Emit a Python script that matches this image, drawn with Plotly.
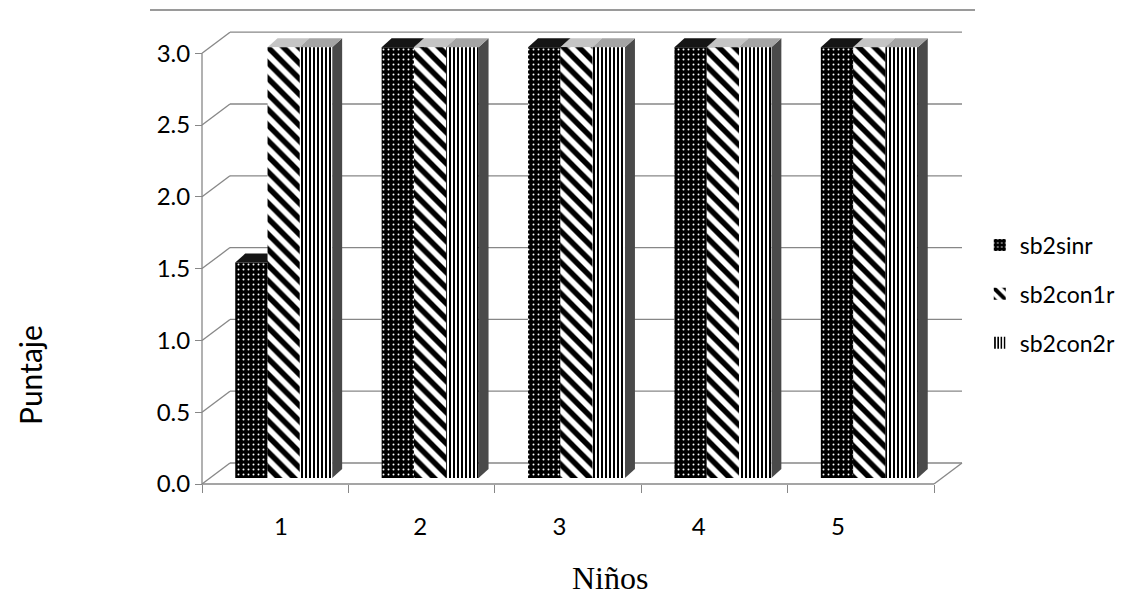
import plotly.graph_objects as go

# ---- data ----
ninos = [1, 2, 3, 4, 5]
sb2sinr = [1.5, 3.0, 3.0, 3.0, 3.0]
sb2con1r = [3.0, 3.0, 3.0, 3.0, 3.0]
sb2con2r = [3.0, 3.0, 3.0, 3.0, 3.0]
series_names = ["sb2sinr", "sb2con1r", "sb2con2r"]
y_ticks = [0.0, 0.5, 1.0, 1.5, 2.0, 2.5, 3.0]

# ---- geometry of the pseudo-3D frame (pixels per unit) ----
W, H = 1134, 595
SX, SY = 146.4, 143.6          # px per category / px per score unit
X0, Y0 = 202, 484              # pixel position of category 0.5 / score 0
WALL_DX, WALL_DY = 28 / SX, 21 / SY
BAR_W = 32.3 / SX
BAR_SHIFT = 8.5 / SX
BAR_BASE = 6 / SY
FACE_DX, FACE_DY = 10 / SX, 9 / SY
# category labels sit on the projected floor, slightly compressed
LABEL_START, LABEL_SPREAD = 0.04, 0.951
GRID = "#878787"
FONT = "Lato"


def cat_at(px):
    return (px - X0) / SX + 0.5


def val_at(py):
    return (Y0 - py) / SY


styles = [
    dict(shape=".", bgcolor="#000000", fgcolor="#ffffff", size=5,
         solidity=0.12, fgopacity=1),
    dict(shape="\\", bgcolor="#ffffff", fgcolor="#000000", size=11,
         solidity=0.5, fgopacity=1),
    dict(shape="|", bgcolor="#ffffff", fgcolor="#000000", size=4,
         solidity=0.5, fgopacity=1),
]
top_colors = ["#151515", "#c4c4c4", "#a4a4a4"]
side_colors = ["#151515", "#8a8a8a", "#4a4a4a"]

fig = go.Figure()
series = [sb2sinr, sb2con1r, sb2con2r]
for i, (name, vals) in enumerate(zip(series_names, series)):
    fig.add_trace(go.Bar(
        x=ninos, y=vals, name=name, base=BAR_BASE, width=BAR_W,
        offset=-1.5 * BAR_W + i * BAR_W + BAR_SHIFT,
        marker=dict(color=styles[i]["bgcolor"], line=dict(width=0),
                    pattern=styles[i]),
        legendgroup=name,
    ))

shapes = []
line = dict(color=GRID, width=1.3)
# back wall gridlines and the diagonals joining them to the front axis
for v in y_ticks:
    shapes.append(dict(type="line", xref="x", yref="y", layer="below",
                       x0=0.5 + WALL_DX, x1=5.5 + WALL_DX,
                       y0=v + WALL_DY, y1=v + WALL_DY, line=line))
    shapes.append(dict(type="line", xref="x", yref="y", layer="below",
                       x0=0.5, x1=0.5 + WALL_DX, y0=v, y1=v + WALL_DY, line=line))
# floor edges and the front axes
shapes.append(dict(type="line", xref="x", yref="y", layer="below",
                   x0=5.5, x1=5.5 + WALL_DX, y0=0, y1=WALL_DY, line=line))
shapes.append(dict(type="line", xref="x", yref="y", layer="below",
                   x0=0.5, x1=5.5, y0=0, y1=0, line=line))
shapes.append(dict(type="line", xref="x", yref="y", layer="below",
                   x0=0.5, x1=0.5, y0=0, y1=3.0, line=line))

# top and side faces of every bar
for k, pos in enumerate(ninos):
    for i, vals in enumerate(series):
        xl = pos - 1.5 * BAR_W + i * BAR_W + BAR_SHIFT
        xr = xl + BAR_W
        yb = BAR_BASE
        yt = BAR_BASE + vals[k]
        side = (f"M{xr},{yb} L{xr + FACE_DX},{yb + FACE_DY} "
                f"L{xr + FACE_DX},{yt + FACE_DY} L{xr},{yt} Z")
        top = (f"M{xl},{yt} L{xl + FACE_DX},{yt + FACE_DY} "
               f"L{xr + FACE_DX},{yt + FACE_DY} L{xr},{yt} Z")
        shapes.append(dict(type="path", xref="x", yref="y", layer="below",
                           path=side, fillcolor=side_colors[i],
                           line=dict(width=0)))
        shapes.append(dict(type="path", xref="x", yref="y", layer="below",
                           path=top, fillcolor=top_colors[i],
                           line=dict(width=0)))

# rule under the heading
shapes.append(dict(type="line", xref="paper", yref="paper",
                   x0=150 / W, x1=975 / W, y0=1 - 10 / H, y1=1 - 10 / H,
                   line=dict(color="#9a9a9a", width=2)))

label_pos = [n + LABEL_START - (n - 1) * (1 - LABEL_SPREAD) for n in ninos]

fig.update_layout(
    width=W, height=H,
    margin=dict(l=0, r=0, t=0, b=0),
    paper_bgcolor="white", plot_bgcolor="white",
    barmode="overlay",
    shapes=shapes,
    showlegend=True,
    legend=dict(x=0.864, y=1 - 294 / H, xanchor="left", yanchor="middle",
                font=dict(family=FONT, size=23, color="black"),
                tracegroupgap=16, bgcolor="rgba(0,0,0,0)"),
    xaxis=dict(
        domain=[196 / W, 972 / W], range=[cat_at(196), cat_at(972)],
        anchor="free", position=1 - Y0 / H,
        showgrid=False, zeroline=False, showline=False,
        tickmode="array", tickvals=label_pos, ticktext=[str(n) for n in ninos],
        ticks="", ticklabelstandoff=26,
        tickfont=dict(family=FONT, size=24, color="black"),
        minor=dict(tickmode="array", tickvals=[n + 0.5 for n in [0] + ninos],
                   ticks="outside", ticklen=8, tickcolor=GRID, tickwidth=1.3),
        automargin=False, fixedrange=True,
    ),
    yaxis=dict(
        domain=[1 - 496 / H, 1 - 22 / H], range=[val_at(496), val_at(22)],
        anchor="free", position=X0 / W,
        showgrid=False, zeroline=False, showline=False,
        tickmode="array", tickvals=y_ticks,
        ticktext=[f"{v:.1f}" for v in y_ticks],
        ticks="outside", ticklen=7, tickcolor=GRID, tickwidth=1.3,
        tickfont=dict(family=FONT, size=24, color="black"),
        automargin=False, fixedrange=True,
    ),
    annotations=[
        dict(text="Puntaje", xref="paper", yref="paper", x=30 / W, y=1 - 375 / H,
             xanchor="center", yanchor="middle",
             showarrow=False, textangle=-90,
             font=dict(family=FONT, size=30, color="black")),
        dict(text="Niños", xref="paper", yref="paper", x=610 / W, y=1 - 578 / H,
             xanchor="center", yanchor="middle",
             showarrow=False,
             font=dict(family="Liberation Serif", size=32, color="black")),
    ],
)

fig.write_html("out.html")
